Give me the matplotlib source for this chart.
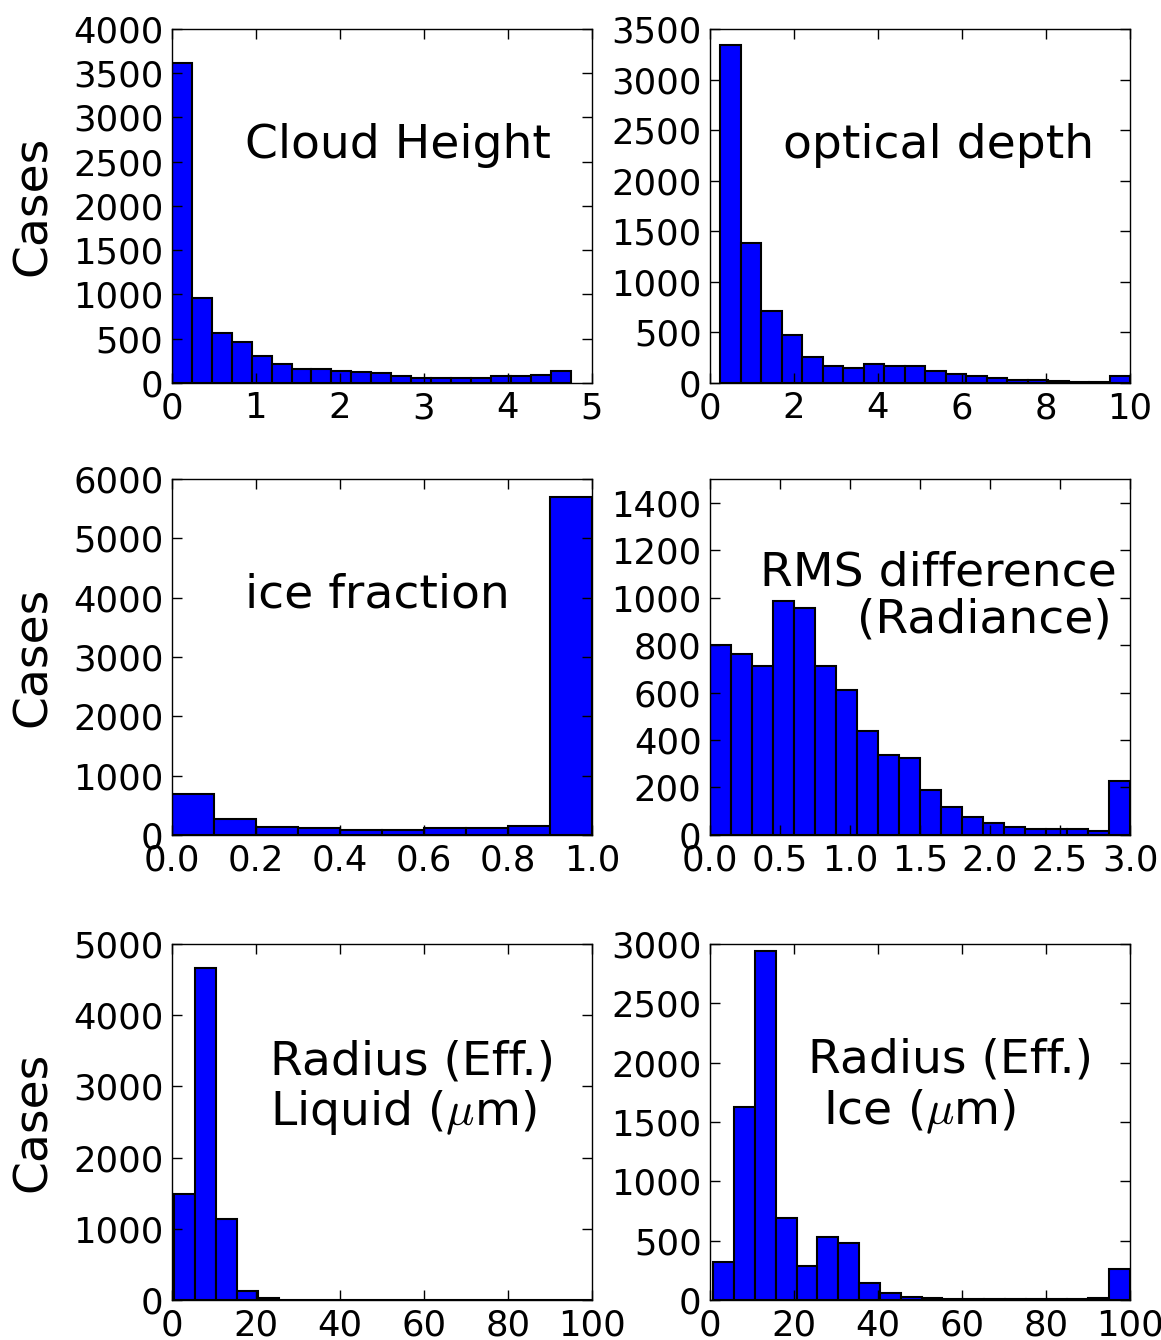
# histograms of retrieved cloud properties, 3x2 panel layout

import numpy as np
import matplotlib
matplotlib.use('Agg')
import matplotlib.pyplot as plt

plt.rcParams['mathtext.fontset'] = 'cm'
plt.rcParams['font.family'] = 'DejaVu Sans'

# cloud height: 20 bins from 0 to 4.75
height_range = (0.0, 4.75)
height_counts = [3620, 965, 560, 460, 310, 215, 158, 155, 132, 120,
                 112, 78, 55, 55, 55, 55, 75, 75, 95, 135]

# optical depth: 20 bins from 0.25 to 10
tau_range = (0.25, 10.0)
tau_counts = [3340, 1385, 708, 477, 254, 165, 148, 188, 171, 165,
              122, 89, 66, 49, 33, 33, 16, 13, 13, 66]

# ice fraction: 10 bins from 0 to 1
icefrac_range = (0.0, 1.0)
icefrac_counts = [690, 264, 140, 112, 84, 84, 112, 112, 152, 5700]

# RMS radiance difference: 20 bins from 0 to 3
rms_range = (0.0, 3.0)
rms_counts = [800, 762, 710, 984, 957, 710, 609, 436, 337, 324,
              191, 119, 77, 49, 35, 25, 25, 25, 18, 229]

# effective radius, liquid: 20 bins from 0.6 to 100
reliq_range = (0.6, 100.0)
reliq_counts = [1490, 4660, 1133, 131, 28, 5, 2, 1, 0, 0,
                0, 0, 0, 0, 0, 0, 0, 0, 0, 0]

# effective radius, ice: 20 bins from 0.8 to 100
reice_range = (0.8, 100.0)
reice_counts = [317, 1629, 2941, 694, 289, 534, 478, 146, 62, 28,
                14, 8, 8, 8, 8, 8, 8, 8, 14, 261]

panels = [
    (height_range, height_counts, (0, 5), np.arange(0, 6, 1), '%d',
     (0, 4000), np.arange(0, 4001, 500)),
    (tau_range, tau_counts, (0, 10), np.arange(0, 11, 2), '%d',
     (0, 3500), np.arange(0, 3501, 500)),
    (icefrac_range, icefrac_counts, (0, 1), np.linspace(0, 1, 6), '%.1f',
     (0, 6000), np.arange(0, 6001, 1000)),
    (rms_range, rms_counts, (0, 3), np.arange(0, 3.01, 0.5), '%.1f',
     (0, 1500), np.arange(0, 1401, 200)),
    (reliq_range, reliq_counts, (0, 100), np.arange(0, 101, 20), '%d',
     (0, 5000), np.arange(0, 5001, 1000)),
    (reice_range, reice_counts, (0, 100), np.arange(0, 101, 20), '%d',
     (0, 3000), np.arange(0, 3001, 500)),
]

fig = plt.figure(figsize=(11.61, 13.40), dpi=100)
fig.patch.set_facecolor('white')

lefts = [0.148, 0.6115]
bottoms = [0.7142, 0.3769, 0.0299]
heights = [0.2642, 0.2657, 0.2657]
width = 0.3618

axes = []
for k, (rng, counts, xlim, xt, xfmt, ylim, yt) in enumerate(panels):
    row, col = divmod(k, 2)
    ax = fig.add_axes([lefts[col], bottoms[row], width, heights[row]])
    edges = np.linspace(rng[0], rng[1], len(counts) + 1)
    ax.bar(edges[:-1], counts, width=np.diff(edges), align='edge',
           color=(0, 0, 1), edgecolor='black', linewidth=1.5)
    ax.set_xlim(xlim)
    ax.set_ylim(ylim)
    ax.set_xticks(xt)
    ax.set_xticklabels([xfmt % v for v in xt])
    ax.set_yticks(yt)
    ax.tick_params(direction='in', top=True, right=True, length=7,
                   width=1, labelsize=25.5, pad=6)
    for s in ax.spines.values():
        s.set_linewidth(1.0)
    if col == 0:
        ax.set_ylabel('Cases', fontsize=34)
        ax.yaxis.set_label_coords(-0.275, 0.5)
    axes.append(ax)

tfs = 34
axes[0].text(0.174, 0.636, 'Cloud Height', transform=axes[0].transAxes,
             fontsize=tfs, ha='left', va='baseline')
axes[1].text(0.174, 0.636, 'optical depth', transform=axes[1].transAxes,
             fontsize=tfs, ha='left', va='baseline')
axes[2].text(0.174, 0.638, 'ice fraction', transform=axes[2].transAxes,
             fontsize=tfs, ha='left', va='baseline')
axes[3].text(0.119, 0.701, 'RMS difference', transform=axes[3].transAxes,
             fontsize=tfs, ha='left', va='baseline')
axes[3].text(0.35, 0.569, '(Radiance)', transform=axes[3].transAxes,
             fontsize=tfs, ha='left', va='baseline')
axes[4].text(0.233, 0.632, 'Radius (Eff.)', transform=axes[4].transAxes,
             fontsize=tfs, ha='left', va='baseline')
axes[4].text(0.233, 0.492, r'Liquid ($\mu$m)', transform=axes[4].transAxes,
             fontsize=tfs, ha='left', va='baseline')
axes[5].text(0.233, 0.638, 'Radius (Eff.)', transform=axes[5].transAxes,
             fontsize=tfs, ha='left', va='baseline')
axes[5].text(0.269, 0.492, r'Ice ($\mu$m)', transform=axes[5].transAxes,
             fontsize=tfs, ha='left', va='baseline')

fig.savefig('out.png', dpi=100, facecolor='white')
